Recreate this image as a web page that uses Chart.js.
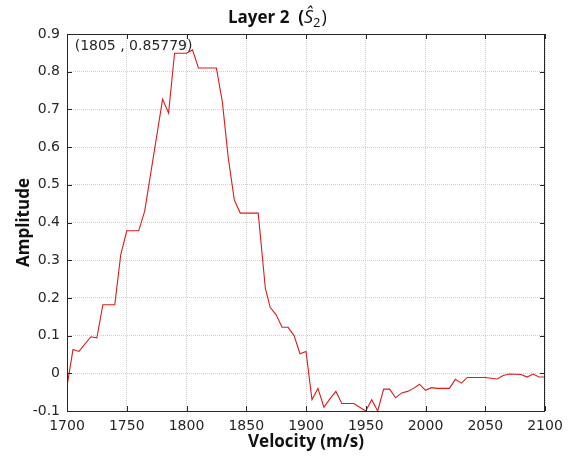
<!DOCTYPE html>
<html>
<head>
<meta charset="utf-8">
<script src="https://cdn.jsdelivr.net/npm/chart.js@4/dist/chart.umd.min.js"></script>
<style>
  html, body { margin: 0; padding: 0; background: #fff; }
  #wrap { width: 574px; height: 458px; }
</style>
</head>
<body>
<div id="wrap"><canvas id="c" width="574" height="458"></canvas></div>
<script>
// Velocity samples (m/s) and the layer-2 amplitude at each one
const velocity = [1700, 1705, 1710, 1720, 1725, 1730, 1740, 1745, 1750, 1760, 1765, 1780, 1785, 1790, 1800, 1805, 1810, 1825, 1830, 1835, 1840, 1845, 1860, 1866, 1870, 1875, 1880, 1885, 1890, 1895, 1900, 1905, 1910, 1915, 1920, 1925, 1930, 1940, 1950, 1955, 1960, 1965, 1970, 1975, 1980, 1985, 1990, 1995, 2000, 2005, 2010, 2020, 2025, 2030, 2035, 2050, 2060, 2065, 2070, 2080, 2085, 2090, 2095, 2100];
const amplitude = [-0.035, 0.063, 0.058, 0.097, 0.094, 0.182, 0.182, 0.315, 0.378, 0.378, 0.43, 0.727, 0.69, 0.849, 0.849, 0.85779, 0.81, 0.81, 0.72, 0.57, 0.46, 0.425, 0.425, 0.225, 0.175, 0.155, 0.122, 0.122, 0.1, 0.052, 0.058, -0.07, -0.04, -0.09, -0.068, -0.048, -0.08, -0.08, -0.1, -0.07, -0.1, -0.042, -0.042, -0.065, -0.052, -0.048, -0.04, -0.029, -0.045, -0.038, -0.04, -0.04, -0.016, -0.026, -0.011, -0.011, -0.015, -0.006, -0.002, -0.003, -0.01, -0.002, -0.01, -0.01];

const xTicks = [1700, 1750, 1800, 1850, 1900, 1950, 2000, 2050, 2100];
const yTicks = [-0.1, 0, 0.1, 0.2, 0.3, 0.4, 0.5, 0.6, 0.7, 0.8, 0.9];

// Highlighted sample shown as a data tip
const tipIndex = 15;

const points = velocity.map((v, i) => ({ x: v, y: amplitude[i] }));

const tickFont = { family: 'DejaVu Sans', size: 14 };
const labelFont = { family: 'Open Sans', size: 17, weight: 'bold' };

// Title with hatted italic S and subscript
const titlePlugin = {
  id: 'mathTitle',
  afterDraw(chart) {
    const ctx = chart.ctx;
    ctx.save();
    ctx.fillStyle = '#111';
    ctx.textBaseline = 'alphabetic';
    let x = 228, y = 23;
    ctx.font = 'bold 17px "Open Sans"';
    const a = 'Layer 2  (';
    ctx.fillText(a, x, y); x += ctx.measureText(a).width;
    ctx.font = 'italic 18px "Open Sans"';
    const s = 'Ŝ';
    ctx.fillText(s, x, y); x += ctx.measureText(s).width;
    ctx.font = '13px "Open Sans"';
    ctx.fillText('2', x, y + 4); x += ctx.measureText('2').width + 1;
    ctx.font = '18px "Open Sans"';
    ctx.fillText(')', x, y);
    ctx.restore();
  }
};

// Frame around the plot with inward tick marks on all four sides, plus the data tip
const framePlugin = {
  id: 'frame',
  afterDatasetsDraw(chart) {
    const { ctx, chartArea: a, scales } = chart;
    ctx.save();
    ctx.strokeStyle = '#262626';
    ctx.lineWidth = 1;
    ctx.strokeRect(a.left + 0.5, a.top + 0.5, a.right - a.left - 1, a.bottom - a.top);
    ctx.beginPath();
    const L = 5;
    xTicks.forEach(v => {
      const px = Math.round(scales.x.getPixelForValue(v)) + 0.5;
      ctx.moveTo(px, a.bottom); ctx.lineTo(px, a.bottom - L);
      ctx.moveTo(px, a.top); ctx.lineTo(px, a.top + L);
    });
    yTicks.forEach(v => {
      const py = Math.round(scales.y.getPixelForValue(v)) + 0.5;
      ctx.moveTo(a.left, py); ctx.lineTo(a.left + L, py);
      ctx.moveTo(a.right, py); ctx.lineTo(a.right - L, py);
    });
    ctx.stroke();

    const vx = velocity[tipIndex], vy = amplitude[tipIndex];
    const px = scales.x.getPixelForValue(vx);
    const py = scales.y.getPixelForValue(vy);
    ctx.font = '14px "DejaVu Sans"';
    ctx.fillStyle = '#262626';
    ctx.textAlign = 'right';
    ctx.textBaseline = 'middle';
    ctx.fillText('(' + vx + ' , ' + vy + ')', px, py - 4);
    ctx.restore();
  }
};

new Chart(document.getElementById('c'), {
  type: 'line',
  data: {
    datasets: [{
      data: points,
      borderColor: '#dc1c1c',
      borderWidth: 1.1,
      pointRadius: 0,
      tension: 0,
      fill: false
    }]
  },
  options: {
    responsive: false,
    animation: false,
    layout: { padding: { top: 34, right: 29, left: 0, bottom: 0 } },
    plugins: { legend: { display: false }, tooltip: { enabled: false }, title: { display: false } },
    scales: {
      x: {
        type: 'linear',
        min: 1700, max: 2100,
        afterBuildTicks: s => { s.ticks = xTicks.map(v => ({ value: v })); },
        afterFit: s => { s.height = 47; },
        grid: { color: '#cfcfcf', lineWidth: 1, drawTicks: false },
        border: { display: false, dash: [1, 1] },
        ticks: { font: tickFont, color: '#262626', padding: 7, maxRotation: 0, callback: v => String(v) },
        title: { display: true, text: 'Velocity (m/s)', font: labelFont, color: '#111', padding: { top: 0, bottom: 6 } }
      },
      y: {
        type: 'linear',
        min: -0.1, max: 0.9,
        afterBuildTicks: s => { s.ticks = yTicks.map(v => ({ value: v })); },
        afterFit: s => { s.width = 67; },
        grid: { color: '#cfcfcf', lineWidth: 1, drawTicks: false },
        border: { display: false, dash: [1, 1] },
        ticks: { font: tickFont, color: '#262626', padding: 7, callback: v => (Math.round(v * 10) / 10).toString() },
        title: { display: true, text: 'Amplitude', font: labelFont, color: '#111', padding: { top: 14, bottom: 0 } }
      }
    }
  },
  plugins: [titlePlugin, framePlugin]
});
</script>
</body>
</html>
